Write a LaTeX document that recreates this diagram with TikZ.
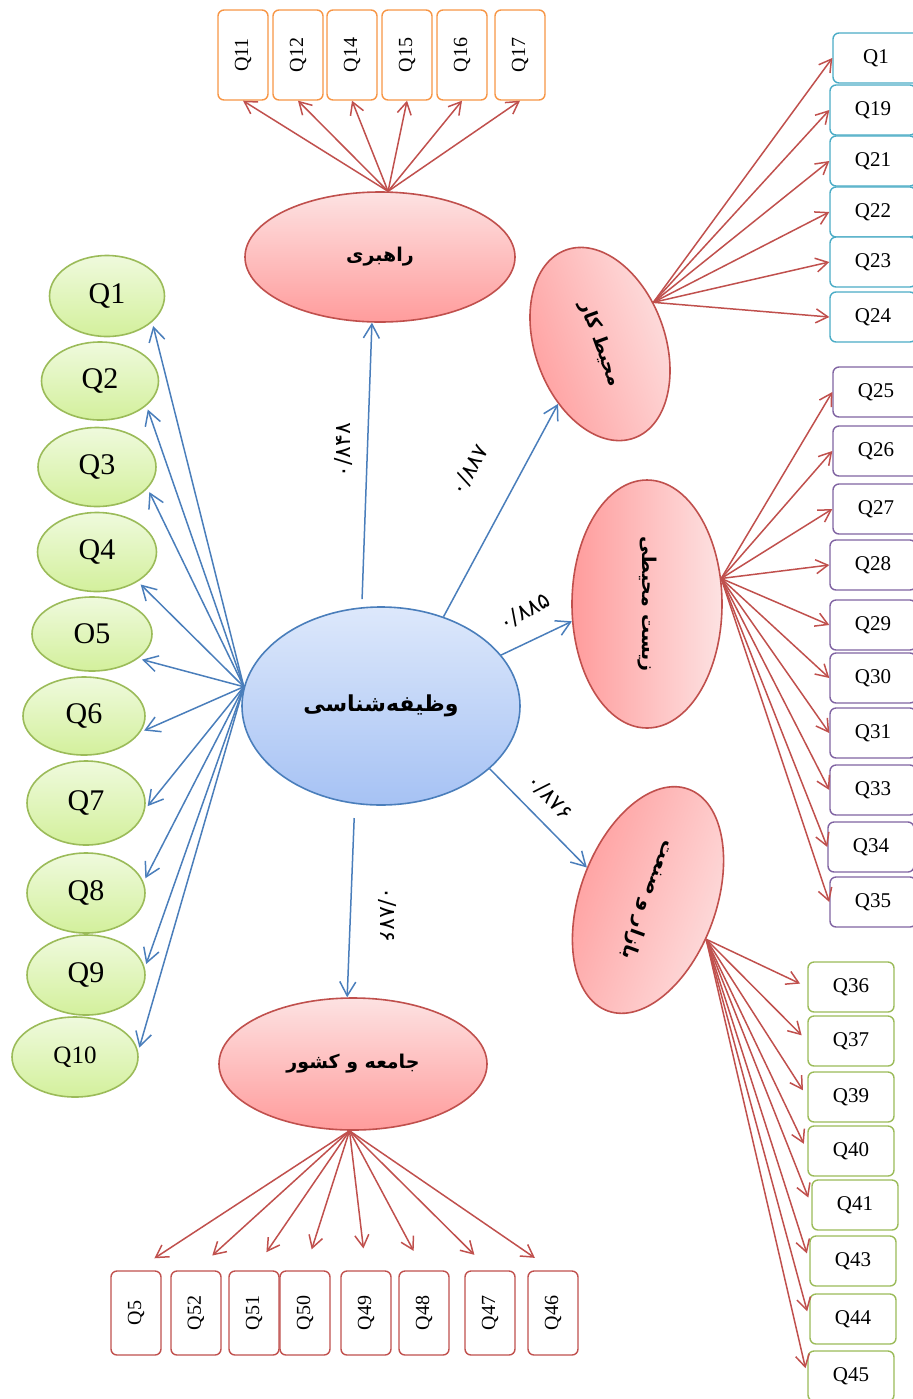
\documentclass[tikz,border=0pt]{standalone}
\usepackage{fontspec}
\usepackage{graphicx}
\setmainfont{Liberation Serif}
\newfontfamily\fa[Script=Arabic]{DejaVu Sans}
\TeXXeTstate=1
\usetikzlibrary{arrows.meta,shapes.geometric}

\definecolor{linkblue}{HTML}{4A7EBB}
\definecolor{linkred}{HTML}{C0504D}
\definecolor{itemgreen}{HTML}{9BBB59}
\definecolor{itemorange}{HTML}{F79646}
\definecolor{itemcyan}{HTML}{4BACC6}
\definecolor{itempurple}{HTML}{8064A2}
\definecolor{factortop}{HTML}{FDE2E2}
\definecolor{factorbottom}{HTML}{FF9C9C}
\definecolor{coretop}{HTML}{DDE8FB}
\definecolor{corebottom}{HTML}{A6C2F4}
\definecolor{qtop}{HTML}{EFFADD}
\definecolor{qbottom}{HTML}{D3F09C}

\begin{document}
\begin{tikzpicture}[x=0.5pt,y=-0.5pt,
    factor/.style={ellipse,draw=linkred,line width=0.8pt,inner sep=0pt,
      top color=factortop,bottom color=factorbottom,font=\fa\bfseries\fontsize{9.5}{12}\selectfont},
    core/.style={ellipse,draw=linkblue,line width=0.8pt,inner sep=0pt,
      top color=coretop,bottom color=corebottom,font=\fa\bfseries\fontsize{11}{14}\selectfont},
    greenq/.style={ellipse,draw=itemgreen,line width=0.8pt,inner sep=0pt,
      top color=qtop,bottom color=qbottom},
    qbox/.style={draw=#1,rounded corners=3pt,line width=0.7pt,fill=white,inner sep=0pt},
    weight/.style={font=\fa\fontsize{11}{13}\selectfont,inner sep=1pt},
    bluelink/.style={draw=linkblue,line width=0.75pt,-{Straight Barb[length=7pt,width=8pt]}},
    redlink/.style={draw=linkred,line width=0.75pt,-{Straight Barb[length=6pt,width=7pt]}}]
  \useasboundingbox (0,0) rectangle (913,1399);

  \node[core,minimum width=139pt,minimum height=99pt] (duty) at (381,706) {\beginR وظیفه‌شناسی\endR};
  \node[factor,minimum width=135pt,minimum height=65pt] (lead) at (380,257) {\beginR راهبری\endR};
  \node[factor,rotate=-70,shading angle=-70,minimum width=100pt,minimum height=65pt] (work) at (600,344) {\beginR محیط کار\endR};
  \node[factor,rotate=-90,shading angle=-90,minimum width=124pt,minimum height=75pt] (env) at (647,604) {\beginR زیست محیطی\endR};
  \node[factor,rotate=-110,shading angle=-110,minimum width=118pt,minimum height=68pt] (market) at (648,900) {\beginR بازار و صنعت\endR};
  \node[factor,minimum width=134pt,minimum height=66pt] (society) at (353,1064) {\beginR جامعه و کشور\endR};

  \draw[bluelink,shorten <=4pt] (duty.101) -- (lead.-97);
  \draw[bluelink] (duty.55) -- (work.-55);
  \draw[bluelink] (duty.23) -- (env.-77);
  \draw[bluelink] (duty.-30) -- (market.-98);
  \draw[bluelink,shorten <=7pt] (duty.-105) -- (society.95);

  \node[weight,rotate=90] (w1) at (343,450) {۰/۸۴۸};
  \node[weight,rotate=60] (w2) at (470,470) {۰/۸۸۷};
  \node[weight,rotate=28] (w3) at (525,612) {۰/۸۸۵};
  \node[weight,rotate=-46] (w4) at (550,797) {۰/۸۷۶};
  \node[weight,rotate=-90] (w5) at (387,915) {۰/۸۷۶};

  \coordinate (hub) at (duty.172);
  \foreach \name/\x/\y/\w/\h/\a/\s in {Q1/107/296/115/81/-30/15,Q2/100/381/117/78/-28/15,
      Q3/97/467/118/79/-23/15,Q4/97/552/119/79/-36/15,O5/92/634/120/74/-28/15,
      Q6/84/716/122/78/-16/15,Q7/86/803/118/84/-6/15,Q8/86/893/118/80/11/15,
      Q9/86/975/118/80/7/15,Q10/75/1057/126/80/5/12.5}{
    \node[greenq,minimum width=\w*0.5pt,minimum height=\h*0.5pt,font=\fontsize{\s}{18}\selectfont] (l\name) at (\x,\y) {\name};
    \draw[bluelink,shorten >=2pt] (hub) -- (l\name.\a);
  }

  \foreach \name/\x in {Q11/243,Q12/298,Q14/352,Q15/407,Q16/462,Q17/520}{
    \node[qbox=itemorange,minimum width=25pt,minimum height=45pt,font=\fontsize{10}{12}\selectfont] (t\name) at (\x,55) {\rotatebox{90}{\name}};
    \draw[redlink] (lead.83) -- (t\name.south);
  }

  \foreach \name/\x/\y in {Q1/876/58,Q19/873/110,Q21/873/161,Q22/873/212,Q23/873/262,Q24/873/317}{
    \node[qbox=itemcyan,minimum width=43pt,minimum height=25pt,font=\fontsize{10.5}{12}\selectfont] (c\name) at (\x,\y) {\name};
    \draw[redlink] (work.108) -- (c\name.west);
  }

  \foreach \name/\x/\y in {Q25/876/392,Q26/876/451,Q27/876/509,Q28/873/565,Q29/873/625,
      Q30/873/678,Q31/873/733,Q33/873/790,Q34/871/847,Q35/873/902}{
    \node[qbox=itempurple,minimum width=43pt,minimum height=25pt,font=\fontsize{10.5}{12}\selectfont] (p\name) at (\x,\y) {\name};
    \draw[redlink] (env.109) -- (p\name.west);
  }

  \foreach \name/\x/\y in {Q36/851/987,Q37/851/1041,Q39/851/1097,Q40/851/1151,
      Q41/855/1205,Q43/853/1261,Q44/853/1319,Q45/851/1376}{
    \node[qbox=itemgreen,minimum width=43pt,minimum height=25pt,font=\fontsize{10.5}{12}\selectfont] (g\name) at (\x,\y) {\name};
    \draw[redlink,shorten >=4pt] (market.76) -- (g\name.west);
  }

  \foreach \name/\x in {Q5/136,Q52/196,Q51/254,Q50/305,Q49/366,Q48/424,Q47/490,Q46/553}{
    \node[qbox=linkred,minimum width=25pt,minimum height=42pt,font=\fontsize{10}{12}\selectfont] (s\name) at (\x,1313) {\rotatebox{90}{\name}};
    \draw[redlink,shorten >=11pt] (society.-93) -- (s\name.north);
  }
\end{tikzpicture}
\end{document}
